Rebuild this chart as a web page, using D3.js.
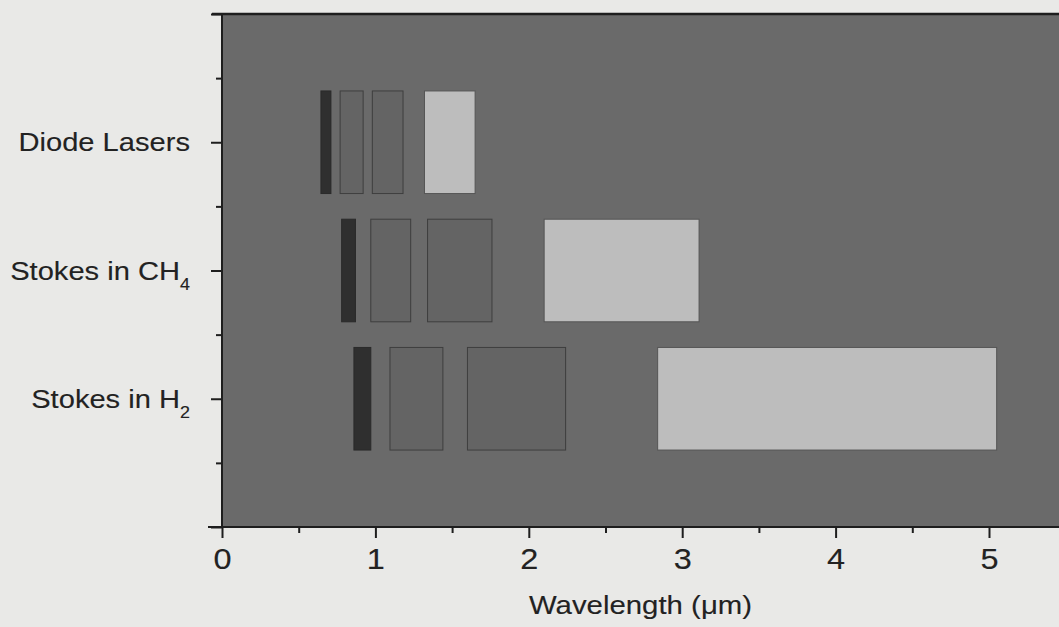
<!DOCTYPE html>
<html>
<head>
<meta charset="utf-8">
<script src="https://cdn.jsdelivr.net/npm/d3@7"></script>
<style>
  body { margin: 0; background: #e9e9e7; }
  text { font-family: "Liberation Sans", Arial, sans-serif; fill: #222; stroke: #222; stroke-width: 0.12px; }
</style>
</head>
<body>
<div id="chart"></div>
<script>
// rows from bottom (y = 1) to top (y = 3)
const rowNames = [["Stokes in H", "2"], ["Stokes in CH", "4"], ["Diode Lasers", ""]];
const rowPos = [1, 2, 3];

// wavelength bands in µm, [start, end]
const h2Bands = [[0.86, 0.97], [1.095, 1.44], [1.60, 2.24], [2.84, 5.05]];
const ch4Bands = [[0.78, 0.87], [0.97, 1.23], [1.34, 1.76], [2.10, 3.11]];
const diodeBands = [[0.645, 0.71], [0.77, 0.92], [0.98, 1.18], [1.32, 1.65]];
const bandShade = ["dark", "mid", "mid", "light"];

const xTicks = [0, 1, 2, 3, 4, 5];
const xMinor = [0.5, 1.5, 2.5, 3.5, 4.5];
const yMajor = [0, 1, 2, 3, 4];
const yMinor = [0.5, 1.5, 2.5, 3.5];

const width = 1059, height = 627;

const x = d3.scaleLinear().domain([0, 5.5]).range([222, 222 + 5.5 * 153.4]);
const y = d3.scaleLinear().domain([0, 4]).range([527, 14]);

const fills = { dark: "#2f2f2f", mid: "#646464", light: "#bdbdbd" };
const strokes = { dark: "#2a2a2a", mid: "#3e3e3e", light: "#555555" };

const svg = d3.select("#chart").append("svg")
    .attr("width", width)
    .attr("height", height);

// plot background
svg.append("rect")
    .attr("x", x(0))
    .attr("y", y(4))
    .attr("width", width - x(0))
    .attr("height", y(0) - y(4))
    .attr("fill", "#6a6a6a");

const rows = [h2Bands, ch4Bands, diodeBands];
rows.forEach(function (bands, r) {
    svg.append("g").selectAll("rect")
        .data(bands)
        .enter().append("rect")
        .attr("x", d => x(d[0]))
        .attr("y", y(rowPos[r] + 0.4))
        .attr("width", d => x(d[1]) - x(d[0]))
        .attr("height", y(rowPos[r] - 0.4) - y(rowPos[r] + 0.4))
        .attr("fill", (d, i) => fills[bandShade[i]])
        .attr("stroke", (d, i) => strokes[bandShade[i]])
        .attr("stroke-width", 1);
});

// top frame line
svg.append("line")
    .attr("x1", x(0) - 10).attr("x2", width)
    .attr("y1", y(4)).attr("y2", y(4))
    .attr("stroke", "#1e1e1e").attr("stroke-width", 2.5);

// x axis
const xAxis = svg.append("g")
    .attr("transform", "translate(0," + y(0) + ")")
    .call(d3.axisBottom(x).tickValues(xTicks).tickSize(11).tickPadding(10).tickFormat(d3.format("d")));
svg.append("g")
    .attr("transform", "translate(0," + y(0) + ")")
    .call(d3.axisBottom(x).tickValues(xMinor).tickSize(6).tickFormat(""))
    .select(".domain").remove();
xAxis.select(".domain").attr("d", "M" + (x(0) - 14) + ",0H" + width);
xAxis.selectAll("text")
    .style("font-size", "29px")
    .attr("transform", "scale(1.12,1)");

// y axis
const yAxis = svg.append("g")
    .attr("transform", "translate(" + x(0) + ",0)")
    .call(d3.axisLeft(y).tickValues(yMajor).tickSize(11).tickFormat(""));
svg.append("g")
    .attr("transform", "translate(" + x(0) + ",0)")
    .call(d3.axisLeft(y).tickValues(yMinor).tickSize(6).tickFormat(""))
    .select(".domain").remove();
yAxis.select(".domain").attr("d", "M0," + y(4) + "V" + y(0));

svg.selectAll(".domain, .tick line")
    .attr("stroke", "#1e1e1e")
    .attr("stroke-width", 2);

// category labels with subscripts
rowNames.forEach(function (n, i) {
    const t = svg.append("text")
        .attr("transform", "translate(" + (x(0) - 32) + "," + (y(rowPos[i]) + 9) + ") scale(1.12,1)")
        .attr("text-anchor", "end")
        .style("font-size", "26px");
    t.append("tspan").text(n[0]);
    if (n[1]) {
        t.append("tspan")
            .attr("dy", 10)
            .style("font-size", "16px")
            .text(n[1]);
    }
});

// x axis title
svg.append("text")
    .attr("transform", "translate(" + ((x(0) + width) / 2) + ",614) scale(1.13,1)")
    .attr("text-anchor", "middle")
    .style("font-size", "26px")
    .text("Wavelength (\u03bcm)");
</script>
</body>
</html>
